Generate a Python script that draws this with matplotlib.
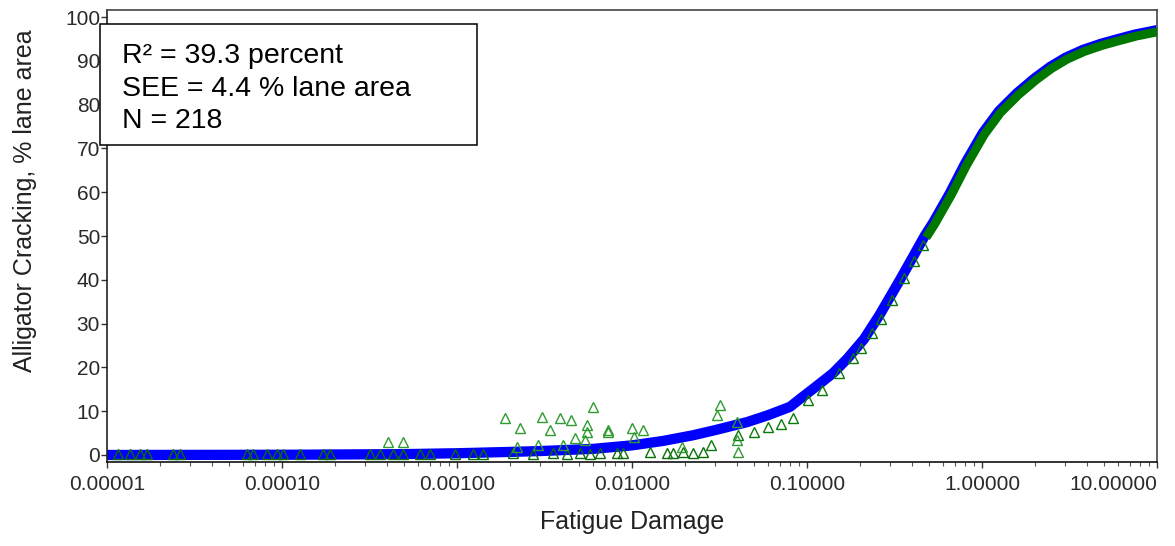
import matplotlib
matplotlib.use('Agg')
import matplotlib.pyplot as plt
from matplotlib import transforms
from matplotlib.patches import Rectangle
from matplotlib.ticker import FixedLocator, LogLocator, NullFormatter

plt.rcParams['font.family'] = ['Liberation Sans', 'DejaVu Sans']

# predicted cracking curve
curve_damage = [1e-5, 1e-4, 5e-4, 1e-3, 2e-3, 3e-3, 6e-3, 0.01, 0.015, 0.0223, 0.03,
                0.0454, 0.06, 0.08, 0.0912, 0.11, 0.141, 0.17, 0.212, 0.26, 0.34,
                0.40, 0.47, 0.525, 0.656, 0.80, 1.01, 1.25, 1.585, 2.0, 2.45,
                3.0, 3.78, 4.8, 5.91, 7.5, 10.0]
curve_crack = [0.0, 0.05, 0.2, 0.4, 0.7, 0.9, 1.4, 2.2, 3.2, 4.5, 5.7,
               7.5, 9.1, 11.0, 12.8, 15.3, 18.7, 22.0, 26.5, 32.0, 40.0,
               45.0, 50.0, 53.0, 59.8, 66.5, 73.5, 78.5, 82.6, 86.0, 88.6,
               90.7, 92.5, 93.9, 94.9, 96.0, 97.0]

# measured points lying along the curve
oncurve_damage = [0.0279, 0.0398, 0.049, 0.059, 0.070, 0.082, 0.10, 0.12, 0.15,
                  0.18, 0.20, 0.23, 0.26, 0.30, 0.35, 0.40, 0.45]
oncurve_crack = [2.7, 5.0, 5.7, 6.8, 7.5, 8.7, 12.8, 15.2, 19.0,
                 22.6, 24.8, 28.3, 31.5, 35.8, 40.8, 44.6, 48.4]

# measured points near zero
zero_damage = [1.16e-5, 1.35e-5, 1.54e-5, 1.69e-5, 2.38e-5, 2.61e-5, 6.3e-5, 6.8e-5,
               8.2e-5, 9.4e-5, 1.01e-4, 1.27e-4, 1.71e-4, 1.88e-4, 3.18e-4, 3.63e-4,
               4.31e-4, 4.91e-4, 6.15e-4, 7.0e-4, 9.7e-4, 1.23e-3, 1.41e-3, 2.09e-3,
               2.72e-3, 3.54e-3, 4.25e-3, 5.05e-3, 5.75e-3, 6.57e-3, 8.2e-3, 8.9e-3,
               0.0127, 0.0158, 0.0172, 0.0196, 0.0223, 0.0255]
zero_crack = [0.2, 0.2, 0.3, 0.2, 0.2, 0.3, 0.2, 0.3, 0.2, 0.2, 0.3, 0.2, 0.2, 0.3,
              0.2, 0.3, 0.2, 0.3, 0.2, 0.3, 0.3, 0.2, 0.3, 0.4, 0.3, 0.4, 0.3, 0.4,
              0.3, 0.5, 0.4, 0.5, 0.6, 0.4, 0.5, 0.6, 0.5, 0.7]

# scattered measured points
scatter_damage = [4.04e-4, 4.9e-4, 1.88e-3, 2.3e-3, 2.2e-3, 2.9e-3, 3.06e-3, 3.4e-3,
                  3.88e-3, 4.04e-3, 4.48e-3, 4.72e-3, 5.38e-3, 5.53e-3, 5.53e-3,
                  5.98e-3, 7.3e-3, 7.3e-3, 0.0100, 0.0102, 0.0116, 0.0193, 0.0306,
                  0.0320, 0.0398, 0.0398, 0.0405]
scatter_crack = [3.0, 3.0, 8.4, 6.2, 1.8, 2.3, 8.7, 5.7,
                 8.4, 2.3, 8.0, 3.9, 3.4, 6.8, 5.3,
                 11.0, 5.7, 5.2, 6.2, 4.1, 5.7, 1.8, 9.1,
                 11.4, 7.5, 3.4, 0.7]

xtick_vals = [1e-5, 1e-4, 1e-3, 1e-2, 1e-1, 1, 10]
xtick_labels = ['0.00001', '0.00010', '0.00100', '0.01000', '0.10000',
                '1.00000', '10.00000']
stats_lines = ['R² = 39.3 percent', 'SEE = 4.4 % lane area', 'N = 218']

W, H = 1175, 546
fig = plt.figure(figsize=(W / 100, H / 100), dpi=100)
ax = fig.add_axes([107 / W, 1 - 462 / H, 1050 / W, 452 / H])

# blue band of predictions
ax.plot(curve_damage, curve_crack, color='#0000ff', lw=7.4,
        solid_capstyle='butt', solid_joinstyle='round', zorder=2)

# dense green measured band on the upper part, slightly offset
shift = transforms.offset_copy(ax.transData, fig=fig, x=1.5, y=-1.5, units='dots')
up_x = [d for d in curve_damage if d >= 0.47]
up_y = [c for d, c in zip(curve_damage, curve_crack) if d >= 0.47]
ax.plot(up_x, up_y, color='#007800', lw=6.4, solid_capstyle='butt',
        solid_joinstyle='round', transform=shift, zorder=3)

tri = dict(marker='^', ls='none', mfc='none', ms=6.5, mew=1.0)
ax.plot(oncurve_damage, oncurve_crack, color='#0a7a0a', transform=shift, zorder=3, **tri)
ax.plot(zero_damage, zero_crack, color='#0a6e0a', zorder=3, **tri)
ax.plot(scatter_damage, scatter_crack, color='#2f9a2f', zorder=4, **tri)

ax.set_xscale('log')
ax.set_xlim(1e-5, 10)
ax.set_ylim(-1.6, 101.6)
ax.xaxis.set_major_locator(FixedLocator(xtick_vals))
ax.set_xticklabels(xtick_labels)
ax.xaxis.set_minor_locator(LogLocator(base=10, subs=range(2, 10)))
ax.xaxis.set_minor_formatter(NullFormatter())
ax.set_yticks(range(0, 101, 10))

ax.tick_params(axis='both', which='major', direction='out', length=4, width=1,
               color='#333333', labelcolor='#2a2a2a', labelsize=15)
ax.tick_params(axis='x', which='major', pad=5)
ax.tick_params(axis='y', which='major', pad=1)
ax.tick_params(axis='x', which='minor', direction='out', length=3, width=0.8,
               color='#555555')
ax.get_xticklabels()[-1].set_horizontalalignment('right')

for s in ax.spines.values():
    s.set_color('#444444')
    s.set_linewidth(1.2)
ax.spines['bottom'].set_color('#111111')
ax.spines['left'].set_color('#222222')

fig.text(632 / W, 1 - 522 / H, 'Fatigue Damage', fontsize=18,
         ha='center', va='center', color='#222222')
fig.text(25 / W, 1 - 201 / H, 'Alligator Cracking, % lane area', fontsize=18,
         rotation=90, ha='center', va='center', color='#222222')

# statistics box
fig.add_artist(Rectangle((100 / W, 1 - 145 / H), 377 / W, 121 / H,
                         transform=fig.transFigure, fc='white', ec='black',
                         lw=1.1, zorder=5))
for i, line in enumerate(stats_lines):
    fig.text(122 / W, 1 - (63 + 32.5 * i) / H, line, fontsize=20.5,
             va='baseline', ha='left', color='black', zorder=6)

fig.savefig('out.png', dpi=100)
